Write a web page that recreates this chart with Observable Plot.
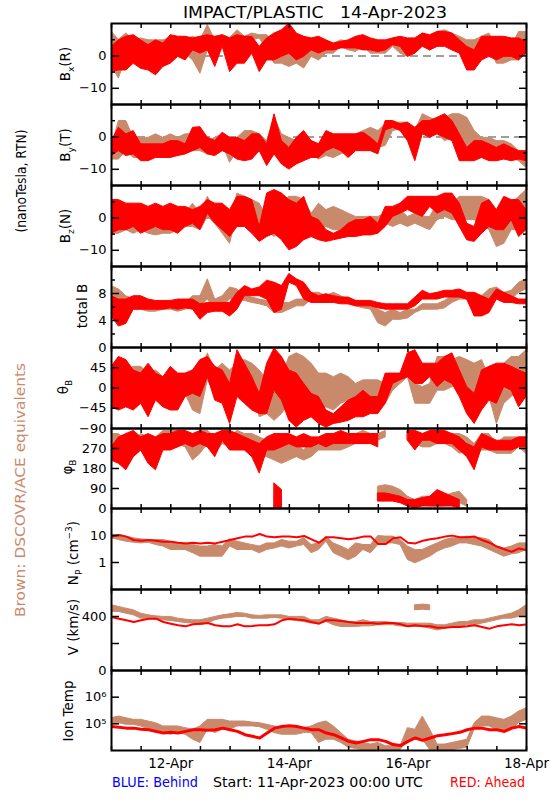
<!DOCTYPE html>
<html><head><meta charset="utf-8">
<script src="https://cdn.jsdelivr.net/npm/d3@7"></script>
<script src="https://cdn.jsdelivr.net/npm/@observablehq/plot@0.6"></script>
<style>
html,body{margin:0;padding:0;background:#fff;}
#chart{position:relative;width:550px;height:800px;overflow:hidden;background:#fff;}
</style></head><body><div id="chart"></div>
<script>
// 3-hourly samples from 11-Apr-2023 00:00 UTC to 18-Apr-2023 00:00 UTC (57 samples)
const hours = d3.range(0, 169, 3);
const startMs = Date.UTC(2023, 3, 11);
const times = hours.map(h => new Date(startMs + h * 3600e3));

// ---- Bx (R), nT: red = STEREO-A (ahead) band, brown = DSCOVR/ACE band
const bxRedHi = [2.8,4.8,5.9,6.4,4.8,3.3,4.8,3.8,6.4,5.9, 5.9,5.4,5.9,6.4,5.9,6.4,5.4,6.4,5.9,5.9, 2.8,5.4,6.9,7.9,10,6.9,5.9,5.4,5.9,4.8, 3.8,4.3,4.8,5.9,6.4,5.4,4.8,4.8,5.4,5.9, 5.4,5.4,6.9,6.4,7.4,7.4,6.9,4.8,2.8,1.7, 5.9,5.9,5.9,5.9,5.4,5.4,4.3];
const bxRedLo = [-5,-4.5,-4.5,-2.4,-4,-4.5,-6,-3.4,-2.4,-0.3, -1.4,1.7,0.7,1.7,-3.4,2.8,-5,-2.4,-2.4,0.7, -5,-1.4,-1.4,-0.3,0.7,-1.4,-0.3,1.7,0.7,1.7, 1.7,2.3,2.3,2.3,1.7,1.7,1.2,1.7,3.3,2.8, -0.3,0.7,2.8,1.7,2.8,2.8,1.7,0.7,-4.5,-4.5, -1.4,-0.3,-1.4,-0.3,-0.3,-1.4,0.7];
const bxBrHi = [7.4,5,6.9,4.8,5.4,4.8,4.8,4.8,5.4,4.8, 4.8,5.9,4.8,9.5,4.8,6.4,5.5,7.9,5.9,6.9, 6.4,6.4,3.8,1.7,2.8,1.7,0.7,3.8,4.8,4.3, 3.8,4.8,4.3,3.8,5.9,4.8,3.8,3.8,5.4,4.8, 3.8,2.8,6.9,5.9,7.4,7.9,6.9,5.9,4.8,4.8, 5.9,6.9,2.8,1.7,2.8,7.4,7.4];
const bxBrLo = [-3,-7,-0.3,-0.3,0.2,-2.4,-2.4,-1.4,0.7,-0.3, 0.7,-1.4,-5.5,1.7,2.8,4.3,1.7,2.8,0.7,4.8, 5.4,1.7,-2.4,-2.4,-3.4,-2.4,-3.9,-0.3,-1.4,0.7, 0.7,2.8,1.7,1.2,2.8,0.7,0.7,0.7,2.8,0.7, -0.3,0.7,3.8,1.7,2.8,3.8,2.8,2.8,-0.3,0.7, 0.7,2.8,-2.4,-2.4,-1.4,-1.4,3.8];

// ---- By (T), nT
const byRedHi = [-1.3,2.8,0.8,1.8,-2.3,-2.3,-2.3,-2.3,-1.3,-1.3, -2.3,2.8,3.0,-0.3,-1.3,1.3,-0.3,-0.3,-1.3,0.8, 0.8,-2.3,7.0,-1.3,-3.4,-0.3,1.8,-1.3,-2.3,1.8, 0.8,0.8,0.8,0.8,1.3,-0.3,-2.3,4.9,4.9,3.9, 4.4,2.8,4.9,4.9,5.9,7.0,4.9,0.8,-3.4,-1.3, -1.3,-2.3,-3.4,-2.3,-3.4,-4.4,-4.4];
const byRedLo = [-5.9,-4.4,-5.9,-5.4,-7.5,-7.5,-6.5,-6.5,-6.5,-5.9, -5.4,-4.4,-3.4,-5.4,-5.9,-4.4,-5.4,-7.0,-7.5,-7.0, -4.4,-9.0,-5.4,-8.5,-10.1,-8.5,-7.5,-6.5,-6.5,-4.4, -3.4,-4.4,-6.5,-4.4,-4.4,-4.4,-5.4,2.0,2.8,1.8, -1.3,-7.5,0.8,-0.3,0.8,-0.3,-1.3,-7.5,-7.5,-7.5, -6.5,-7.5,-7.5,-7.0,-7.5,-7.0,-7.5];
const byBrHi = [-3.4,4.9,4.9,-0.3,-0.3,-0.3,0.8,-0.3,0.8,-0.3, 0.8,0.8,0.8,-1.3,-0.3,0.8,-1.3,-0.3,1.8,1.8, 0.8,-1.3,5.9,0.8,-0.3,-1.3,-1.3,-1.3,-2.3,-1.3, -2.3,-1.3,-1.3,0.8,1.8,2.8,1.8,3.9,4.4,4.4, 4.4,1.8,7.0,5.9,4.9,5.9,7.0,7.0,5.9,1.8, -0.3,-0.3,-1.3,-1.3,-2.3,-4.4,-5.4];
const byBrLo = [-7.0,-7.0,-4.4,-6.5,-6.5,-5.9,-5.4,-6.5,-5.9,-5.9, -3.4,-4.4,-4.4,-5.4,-4.4,-2.3,-8.0,-4.4,-4.4,-3.4, -4.4,-5.4,-4.4,-4.4,-5.4,-6.5,-5.4,-5.4,-7.0,-5.9, -6.5,-5.4,-4.4,-3.4,-2.3,-2.3,-3.4,-2.8,1.8,2.3, -0.3,-1.3,1.8,0.8,0.8,-1.3,-0.3,-1.3,-3.4,-5.4, -6.5,-4.4,-7.5,-6.5,-6.5,-7.5,-9.6];

// ---- Bz (N), nT
const bzRedHi = [5.5,5.5,4.4,4.4,4.4,3.4,4.4,3.4,4.4,3.4, 3.4,2.4,3.4,5.5,4.4,4.4,2.4,6.5,6.5,5.5, -2.8,7.5,8.6,7.5,5.5,4.4,6.5,0.3,-0.7,-3.8, -4.9,-3.8,-1.8,-0.7,-0.7,0.3,-1.8,3.4,3.4,4.4, 6.5,6.5,6.5,6.5,6.5,7.5,7.5,4.4,-1.8,-2.8, 4.4,5.5,2.4,6.5,5.5,5.5,2.4];
const bzRedLo = [-4.9,-3.8,-3.8,-2.8,-4.9,-3.8,-2.8,-3.8,-3.8,-4.9, -2.8,-1.8,-3.8,1.3,-1.8,-3.8,-5.9,-2.8,-2.8,-4.9, -7.4,-5.9,-4.9,-6.9,-10.0,-9.0,-6.9,-5.9,-6.9,-7.4, -6.9,-6.4,-5.9,-5.9,-5.4,-5.4,-4.9,-2.8,0.3,1.3, 2.4,1.3,0.3,3.4,1.3,2.4,1.3,-2.8,-6.9,-7.4, -4.9,-2.8,-3.8,-3.8,-0.7,-5.9,-3.8];
const bzBrHi = [2.4,1.3,2.4,3.4,1.3,2.4,1.3,0.3,2.4,1.3, 1.3,4.4,1.3,6.5,2.4,0.3,-0.7,7.5,6.5,5.5, 4.4,0.3,-0.7,4.4,6.5,6.5,5.5,1.3,4.4,2.4, 3.4,2.4,1.3,0.3,0.3,0.3,0.3,1.3,1.3,2.4, 0.3,1.3,0.3,0.3,4.4,5.5,4.4,6.5,6.5,6.5, 6.5,5.5,-0.7,-1.8,4.4,6.5,8.6];
const bzBrLo = [-4.9,-4.9,-3.8,-4.9,-3.8,-4.9,-5.4,-4.9,-4.9,-3.8, -2.8,-2.8,-3.8,0.3,-1.8,-4.9,-8.0,1.3,0.3,-2.8, -3.8,-3.8,-5.9,-3.8,-1.8,-1.8,-0.7,-4.9,-3.8,-2.8, -3.8,-3.8,-3.8,-4.9,-3.8,-4.9,-2.8,-1.8,-2.8,-1.8, -2.8,-1.8,-2.8,-3.8,-0.7,0.3,-0.7,-0.7,-0.7,-0.7, -1.8,-3.8,-9.0,-8.0,-3.8,-3.8,-2.8];

// ---- total B, nT
const btRedHi = [7.6,7.1,7.1,7.6,7.6,7.1,6.9,6.9,6.9,7.1, 7.1,7.1,6.4,6.6,6.6,6.6,6.6,8.1,9.1,8.6, 8.9,9.9,9.6,9.1,10.9,10.1,9.6,8.1,7.6,7.9, 7.6,7.4,7.4,6.9,6.9,6.9,6.6,6.4,6.4,6.4, 6.4,7.4,8.4,7.9,8.1,8.4,8.4,8.6,8.1,8.1, 7.6,7.1,8.6,8.1,7.6,7.1,7.1];
const btRedLo = [4.6,3.1,3.5,5.6,5.6,5.6,5.6,5.6,5.8,5.6, 5.8,5.6,4.1,5.1,5.3,5.3,4.6,5.6,7.6,7.6, 7.6,7.1,5.1,5.6,9.6,9.1,7.1,6.6,6.6,6.6, 6.6,6.4,6.4,6.1,6.1,6.1,5.8,5.6,5.6,5.6, 5.6,6.1,7.1,7.1,7.1,7.4,7.4,7.4,7.1,4.6, 4.6,5.1,7.1,6.6,6.6,6.4,6.4];
const btBrHi = [9.1,8.6,7.6,7.1,6.6,6.6,6.6,6.6,6.6,6.6, 6.6,7.6,7.6,10.1,7.1,7.6,8.9,8.6,7.6,7.4, 7.1,6.9,6.1,6.6,6.6,7.1,7.1,8.1,8.1,7.6, 8.1,7.6,7.1,6.9,6.6,6.4,5.6,5.1,5.6,5.1, 5.6,5.6,6.4,6.4,6.4,6.9,7.6,8.1,7.9,7.6, 7.6,8.6,8.9,8.1,8.4,9.6,10.1];
const btBrLo = [7.1,6.1,5.6,5.6,5.6,5.3,5.3,5.6,5.6,5.3, 5.6,6.1,6.1,7.1,5.6,6.1,7.1,7.1,6.9,6.6, 6.4,6.1,5.1,5.1,5.6,6.1,6.1,7.1,6.6,6.6, 7.1,6.6,6.4,6.1,5.8,5.6,3.6,3.1,4.1,4.1, 4.3,5.1,5.6,5.6,5.6,5.8,6.6,7.1,7.1,5.1, 6.1,7.1,7.6,7.1,7.1,8.1,8.6];

// ---- theta_B, degrees
const thRedHi = [47,69,62,39,32,54,32,24,47,32, 32,39,62,69,47,39,9,84,54,24, -13,54,88,69,39,32,9,-13,-20,-50, -58,-43,-28,-20,-6,-20,-20,32,32,32, 77,84,54,54,54,69,77,39,2,-13, 39,47,54,54,47,39,32];
const thRedLo = [-43,-50,-43,-50,-35,-65,-28,-43,-50,-50, -20,-13,-20,24,-28,-35,-80,-20,-35,-50, -58,-58,-6,-28,-73,-88,-73,-65,-80,-88, -80,-77,-73,-65,-65,-58,-58,-35,9,17, 24,9,9,24,2,17,9,-20,-58,-80, -50,-28,-35,2,-6,-43,-20];
const thBrHi = [32,47,39,47,47,32,39,24,39,24, 24,17,32,77,39,54,39,54,62,54, 39,17,-13,24,69,77,69,54,32,32, 24,32,24,9,17,17,17,9,24,32, 39,9,2,9,69,69,62,69,62,54, 62,24,2,54,69,69,84];
const thBrLo = [-20,-43,-28,-13,-20,-28,-13,-20,-28,-20, -13,-50,-58,17,-13,17,-73,17,24,9, -65,-58,-73,-58,-35,-6,-28,-35,-50,-43, -50,-35,-28,-28,-50,-20,-28,-35,-6,9, 24,-35,-35,-35,-6,-6,2,9,-13,-43, -13,-20,-80,-35,-20,-6,-20];

// ---- phi_B, degrees (upper branch and wrapped low branch)
const phRedHi = [275,320,335,349,320,335,320,335,335,349, 349,335,349,335,335,349,349,335,320,305, 290,320,335,335,335,320,335,320,320,335, 335,349,335,335,335,335,335,null,null,null, 349,349,335,349,349,349,335,320,290,275, 335,320,305,305,305,320,320];
const phRedLo = [216,201,172,231,261,201,172,261,261,275, 290,275,290,275,231,305,261,261,261,231, 157,261,261,275,290,275,275,275,290,275, 290,290,290,290,290,290,275,null,null,null, 305,261,305,305,290,290,290,261,231,172, 275,261,261,261,261,275,275];
const phBrHi = [335,335,305,290,335,320,320,349,349,349, 349,290,349,349,320,349,320,349,335,335, 320,305,290,290,290,290,261,305,305,320, 320,335,335,335,349,335,335,349,null,null, 349,349,335,335,349,335,335,335,320,290, 335,335,290,320,320,320,320];
const phBrLo = [275,231,231,231,261,231,246,275,275,290, 275,216,246,290,246,290,275,275,261,275, 231,231,216,201,216,231,216,231,261,261, 261,261,275,290,290,290,305,320,null,null, 305,290,275,275,290,290,275,246,261,231, 261,261,246,246,246,275,246];
const phRedLowHi = [null,null,null,null,null,null,null,null,null,null, null,null,null,null,null,null,null,null,null,null, null,null,112,83,null,null,null,null,null,null, null,null,null,null,null,null,68,68,61,53, 38,38,46,53,83,68,53,38,null,null, null,null,null,null,null,null,null];
const phRedLowLo = [null,null,null,null,null,null,null,null,null,null, null,null,null,null,null,null,null,null,null,null, null,null,1,1,null,null,null,null,null,null, null,null,null,null,null,null,31,31,31,24, 9,1,9,9,9,9,9,1,null,null, null,null,null,null,null,null,null];
const phBrLowHi = [null,null,null,null,null,null,null,null,null,null, null,null,null,null,null,null,null,null,null,null, null,null,null,null,null,null,null,null,null,null, null,null,null,null,null,null,98,105,98,83, 53,38,53,53,38,53,68,75,38,null, null,null,null,null,null,null,null];
const phBrLowLo = [null,null,null,null,null,null,null,null,null,null, null,null,null,null,null,null,null,null,null,null, null,null,null,null,null,null,null,null,null,null, null,null,null,null,null,null,38,38,38,31, 9,9,16,9,9,9,24,24,9,null, null,null,null,null,null,null,null];

// ---- Np, cm^-3 (red line, brown band)
const npRed = [9.1,10.5,9.1,6.8,6.4,6.8,6.4,5.9,5.9,5.4, 5.1,5.4,5.1,5.4,5.1,5.9,6.8,7.9,9.1,9.1, 11.4,9.1,8.6,9.1,9.1,8.6,9.6,7.2,5.4,8.6, 8.6,7.9,7.2,7.9,9.1,9.1,4.8,4.8,7.9,8.6, 5.4,5.1,6.4,7.2,7.9,9.1,9.9,8.6,8.6,9.1, 6.8,5.4,3.9,3.1,2.5,3.3,2.9];
const npBrHi = [10.5,10.5,9.1,7.9,7.2,6.8,6.8,6.8,5.9,5.1, 5.1,4.45,3.9,3.9,4.45,3.9,7.2,5.9,5.1,4.45, 3.9,5.1,5.1,6.8,5.9,5.9,7.9,4.45,5.1,9.1, 5.1,3.9,2.9,5.1,4.45,4.45,9.6,9.1,9.1,6.8, 3.9,2.9,2.9,3.9,5.1,6.8,7.9,7.9,9.1,7.9, 7.9,6.8,3.9,3.3,3.9,5.1,5.1];
const npBrLo = [7.9,6.8,5.9,5.4,5.1,5.4,4.45,3.9,2.9,2.9, 2.9,2.2,1.64,1.64,1.64,1.64,3.9,2.9,2.9,2.9, 2.2,2.9,3.3,3.9,3.3,3.9,4.45,2.2,2.9,5.9, 2.2,1.64,1.2,1.64,2.9,2.2,4.45,5.1,5.1,4.45, 1.23,0.93,1.23,1.64,2.5,3.3,3.9,5.1,5.1,4.45, 3.9,2.9,2.2,1.64,2.0,2.2,2.9];

// ---- V, km/s
const vRed = [397,384,372,359,372,384,384,359,347,335, 327,342,347,352,335,327,327,342,327,330, 335,335,342,372,384,377,372,359,347,372, 372,367,359,352,352,352,347,352,352,342, 327,335,327,327,317,317,322,322,327,335, 322,310,327,335,342,335,342];
const vBrHi = [483,471,458,446,421,409,401,397,397,384, 377,372,372,384,397,409,416,426,421,409, 404,409,409,409,397,397,397,372,372,397, 384,372,359,359,372,359,359,359,352,352, 347,347,347,347,335,335,347,359,359,372, 372,384,397,409,421,446,483];
const vBrLo = [434,434,421,409,384,384,377,372,367,359, 352,347,335,347,372,384,389,397,397,384, 384,384,389,384,372,367,359,347,347,359, 335,322,322,322,327,327,335,335,335,327, 322,322,322,310,297,310,322,322,335,335, 347,359,372,384,384,397,397];
const vBrXHi = [null,null,null,null,null,null,null,null,null,null, null,null,null,null,null,null,null,null,null,null, null,null,null,null,null,null,null,null,null,null, null,null,null,null,null,null,null,null,null,null, null,483,488,483,null,null,null,null,null,null, null,null,null,null,null,null,null];
const vBrXLo = [null,null,null,null,null,null,null,null,null,null, null,null,null,null,null,null,null,null,null,null, null,null,null,null,null,null,null,null,null,null, null,null,null,null,null,null,null,null,null,null, null,446,450,446,null,null,null,null,null,null, null,null,null,null,null,null,null];

// ---- Ion temperature, K
const tRed = [8.0e4,7.5e4,6.9e4,6.9e4,6.3e4,6.0e4,5.2e4,4.5e4,4.8e4,4.5e4, 5.2e4,6.0e4,6.0e4,5.7e4,6.0e4,6.9e4,6.0e4,5.2e4,3.9e4,3.4e4, 2.95e4,4.5e4,6.9e4,8.0e4,8.4e4,8.0e4,6.9e4,6.0e4,6.0e4,4.5e4, 3.9e4,2.95e4,2.2e4,1.92e4,2.2e4,2.55e4,2.55e4,2.2e4,1.67e4,1.53e4, 2.2e4,2.95e4,2.4e4,2.95e4,3.6e4,3.9e4,4.3e4,4.8e4,6.0e4,6.9e4, 6.9e4,6.0e4,6.0e4,5.2e4,6.9e4,8.0e4,6.9e4];
const tBrHi = [1.62e5,1.87e5,1.62e5,1.41e5,1.41e5,1.22e5,1.06e5,8.0e4,8.0e4,8.0e4, 6.9e4,6.0e4,8.0e4,1.41e5,1.41e5,1.41e5,1.22e5,1.22e5,1.22e5,1.12e5, 1.06e5,9.2e4,8.0e4,6.9e4,6.9e4,6.9e4,6.9e4,8.0e4,1.06e5,1.22e5, 8.0e4,4.5e4,2.55e4,2.2e4,1.92e4,1.67e4,1.92e4,1.45e4,1.45e4,1.45e4, 6.9e4,6.0e4,1.87e5,6.0e4,1.67e4,1.67e4,1.92e4,2.2e4,2.55e4,1.06e5, 1.87e5,1.87e5,1.62e5,1.41e5,1.87e5,2.9e5,3.8e5];
const tBrLo = [1.06e5,1.06e5,9.2e4,9.2e4,8.0e4,6.0e4,4.5e4,4.5e4,3.9e4,4.5e4, 3.9e4,2.55e4,1.92e4,6.0e4,4.5e4,6.0e4,6.0e4,8.0e4,8.0e4,8.0e4, 7.5e4,6.0e4,4.5e4,3.9e4,3.9e4,3.9e4,4.5e4,4.5e4,1.92e4,2.55e4, 2.55e4,1.92e4,1.26e4,1.15e4,1.03e4,1.03e4,1.03e4,1.03e4,1.03e4,1.03e4, 2.55e4,2.55e4,2.55e4,1.03e4,1.03e4,1.03e4,1.03e4,1.15e4,1.26e4,6.0e4, 8.0e4,8.0e4,6.0e4,4.5e4,6.0e4,1.06e5,1.41e5];

// ---- axis tick labels
const dayTicks = ["2023-04-12","2023-04-14","2023-04-16","2023-04-18"];

// ===================== drawing =====================
const RED = "#ff0000", BROWN = "#c98a6c";
const FONT = "DejaVu Sans, sans-serif";
const X0 = new Date(startMs), X1 = new Date(startMs + 7 * 864e5);
const PL = 111, PR = 526;
const xHalfDay = d3.utcHours(X0, new Date(+X1 + 1), 12);
const xLabelDates = dayTicks.map(s => new Date(s + "T00:00:00Z"));
const chart = document.getElementById("chart");

const rowsOf = (cols) => times.map((t, i) => {
  const r = {t};
  for (const k in cols) r[k] = cols[k][i];
  return r;
});

function band(rows, lo, hi, color) {
  return Plot.areaY(rows, {x: "t", y1: lo, y2: hi, fill: color, stroke: color, strokeWidth: 1, clip: true});
}

function panel({top, bottom, y, marks, labels, fmt, major, minor = [], zero = false, last = false}) {
  const h = bottom - top;
  const mb = last ? 32 : 1;
  const svg = Plot.plot({
    width: 550, height: h + 1 + mb,
    marginTop: 1, marginBottom: mb, marginLeft: PL, marginRight: 550 - PR,
    x: {type: "utc", domain: [X0, X1]},
    y,
    style: {fontFamily: FONT, fontSize: "13px", background: "transparent", overflow: "visible", color: "black"},
    marks: [
      zero ? Plot.ruleY([0], {stroke: "#808080", strokeWidth: 1.5, strokeDasharray: "8,5"}) : null,
      ...marks,
      Plot.axisY(labels, {anchor: "left", tickSize: 0, tickPadding: 5, tickFormat: fmt, label: null, fontSize: 13}),
      Plot.axisY(major, {anchor: "left", tickSize: 8, dx: 8, fill: "none", label: null, strokeWidth: 1.5}),
      Plot.axisY(major, {anchor: "right", tickSize: 8, dx: -8, fill: "none", label: null, strokeWidth: 1.5}),
      minor.length ? Plot.axisY(minor, {anchor: "left", tickSize: 4, dx: 4, fill: "none", label: null, strokeWidth: 1.5}) : null,
      minor.length ? Plot.axisY(minor, {anchor: "right", tickSize: 4, dx: -4, fill: "none", label: null, strokeWidth: 1.5}) : null,
      Plot.axisX(xHalfDay, {anchor: "bottom", tickSize: 4, dy: -4, fill: "none", label: null, strokeWidth: 1.5}),
      Plot.axisX(xHalfDay, {anchor: "top", tickSize: 4, dy: 4, fill: "none", label: null, strokeWidth: 1.5}),
      Plot.frame({stroke: "black", strokeWidth: 2}),
      last ? Plot.axisX(xLabelDates, {anchor: "bottom", tickSize: 0, tickPadding: 8, tickFormat: d3.utcFormat("%d-%b"), label: null, fontSize: 13.5}) : null
    ]
  });
  svg.style.position = "absolute";
  svg.style.left = "0px";
  svg.style.top = (top - 1) + "px";
  chart.append(svg);
}

const P = [23, 104, 185, 266, 347, 428, 508, 589, 670, 750];
const num = d3.format("d");

panel({top: P[0], bottom: P[1], y: {domain: [-15, 10]}, zero: true,
  labels: [0, -10], major: [0, -10], minor: [5, -5],
  marks: [(() => { const r = rowsOf({rh: bxRedHi, rl: bxRedLo, bh: bxBrHi, bl: bxBrLo}); return [band(r, "bl", "bh", BROWN), band(r, "rl", "rh", RED)]; })()].flat()});

panel({top: P[1], bottom: P[2], y: {domain: [-15, 10]}, zero: true,
  labels: [0, -10], major: [0, -10], minor: [5, -5],
  marks: [(() => { const r = rowsOf({rh: byRedHi, rl: byRedLo, bh: byBrHi, bl: byBrLo}); return [band(r, "bl", "bh", BROWN), band(r, "rl", "rh", RED)]; })()].flat()});

panel({top: P[2], bottom: P[3], y: {domain: [-15, 10]}, zero: true,
  labels: [0, -10], major: [0, -10], minor: [5, -5],
  marks: [(() => { const r = rowsOf({rh: bzRedHi, rl: bzRedLo, bh: bzBrHi, bl: bzBrLo}); return [band(r, "bl", "bh", BROWN), band(r, "rl", "rh", RED)]; })()].flat()});

panel({top: P[3], bottom: P[4], y: {domain: [0, 12]},
  labels: [0, 4, 8], major: [4, 8], minor: [2, 6, 10],
  marks: [(() => { const r = rowsOf({rh: btRedHi, rl: btRedLo, bh: btBrHi, bl: btBrLo}); return [band(r, "bl", "bh", BROWN), band(r, "rl", "rh", RED)]; })()].flat()});

panel({top: P[4], bottom: P[5], y: {domain: [-90, 90]},
  labels: [45, 0, -45, -90], major: [45, 0, -45],
  marks: [(() => { const r = rowsOf({rh: thRedHi, rl: thRedLo, bh: thBrHi, bl: thBrLo}); return [band(r, "bl", "bh", BROWN), band(r, "rl", "rh", RED)]; })()].flat()});

panel({top: P[5], bottom: P[6], y: {domain: [0, 360]},
  labels: [270, 180, 90, 0], major: [270, 180, 90],
  marks: [(() => { const r = rowsOf({rh: phRedHi, rl: phRedLo, bh: phBrHi, bl: phBrLo, rlh: phRedLowHi, rll: phRedLowLo, blh: phBrLowHi, bll: phBrLowLo});
    return [band(r, "bl", "bh", BROWN), band(r, "bll", "blh", BROWN), band(r, "rl", "rh", RED), band(r, "rll", "rlh", RED)]; })()].flat()});

panel({top: P[6], bottom: P[7], y: {type: "log", domain: [0.1, 100]},
  labels: [10, 1], fmt: num, major: [10, 1],
  marks: [(() => { const r = rowsOf({r: npRed, bh: npBrHi, bl: npBrLo});
    return [band(r, "bl", "bh", BROWN), Plot.lineY(r, {x: "t", y: "r", stroke: RED, strokeWidth: 2, clip: true})]; })()].flat()});

panel({top: P[7], bottom: P[8], y: {domain: [0, 600]},
  labels: [400, 0], fmt: num, major: [200, 400],
  marks: [(() => { const r = rowsOf({r: vRed, bh: vBrHi, bl: vBrLo, xh: vBrXHi, xl: vBrXLo});
    return [band(r, "bl", "bh", BROWN), band(r, "xl", "xh", BROWN), Plot.lineY(r, {x: "t", y: "r", stroke: RED, strokeWidth: 2, clip: true})]; })()].flat()});

panel({top: P[8], bottom: P[9], y: {type: "log", domain: [1e4, 1e7]}, last: true,
  labels: [1e6, 1e5], fmt: d => d === 1e6 ? "10\u2076" : "10\u2075", major: [1e6, 1e5],
  marks: [(() => { const r = rowsOf({r: tRed, bh: tBrHi, bl: tBrLo});
    return [band(r, "bl", "bh", BROWN), Plot.lineY(r, {x: "t", y: "r", stroke: RED, strokeWidth: 3, clip: true})]; })()].flat()});

// ===================== text overlay =====================
const ov = d3.create("svg").attr("width", 550).attr("height", 800)
  .style("position", "absolute").style("left", "0px").style("top", "0px")
  .attr("font-family", FONT).attr("font-size", 13.5).attr("fill", "black");

function vlabel(x, y, parts, opts = {}) {
  const t = ov.append("text").attr("transform", `translate(${x},${y}) rotate(-90)`).attr("text-anchor", "middle");
  if (opts.fill) t.attr("fill", opts.fill);
  if (opts.len) t.attr("textLength", opts.len).attr("lengthAdjust", "spacingAndGlyphs");
  let shift = 0;
  for (const [s, kind] of parts) {
    const ts = t.append("tspan").text(s);
    let target = 0;
    if (kind === "sub") { target = 4; ts.attr("font-size", 9); }
    if (kind === "sup") { target = -6; ts.attr("font-size", 9); }
    if (target !== shift) { ts.attr("dy", target - shift); shift = target; }
  }
  return t;
}

ov.append("text").attr("x", 315).attr("y", 18).attr("text-anchor", "middle").attr("font-size", 16)
  .style("white-space", "pre").attr("textLength", 264).attr("lengthAdjust", "spacingAndGlyphs")
  .text("IMPACT/PLASTIC   14-Apr-2023");

vlabel(70, 64, [["B"], ["x", "sub"], ["(R)"]]);
vlabel(70, 145, [["B"], ["y", "sub"], ["(T)"]]);
vlabel(70, 226, [["B"], ["z", "sub"], ["(N)"]]);
vlabel(87, 306, [["total B"]]);
vlabel(68, 387, [["\u03b8"], ["B", "sub"]]);
vlabel(72, 467, [["\u03c6"], ["B", "sub"]]);
vlabel(78, 553, [["N"], ["P", "sub"], [" (cm"], ["\u22123", "sup"], [")"]]);
vlabel(78, 627, [["V (km/s)"]]);
vlabel(73, 711, [["Ion Temp"]]);
vlabel(26, 181, [["(nanoTesla, RTN)"]], {len: 103});
vlabel(25, 490, [["Brown: DSCOVR/ACE equivalents"]], {fill: BROWN, len: 254});

ov.append("text").attr("x", 112).attr("y", 787).attr("fill", "#0000ff")
  .attr("textLength", 86).attr("lengthAdjust", "spacingAndGlyphs").text("BLUE: Behind");
ov.append("text").attr("x", 318).attr("y", 787).attr("text-anchor", "middle")
  .attr("textLength", 210).attr("lengthAdjust", "spacingAndGlyphs").text("Start: 11-Apr-2023 00:00 UTC");
ov.append("text").attr("x", 525).attr("y", 787).attr("text-anchor", "end").attr("fill", RED)
  .attr("textLength", 75).attr("lengthAdjust", "spacingAndGlyphs").text("RED: Ahead");

chart.append(ov.node());
</script></body></html>
